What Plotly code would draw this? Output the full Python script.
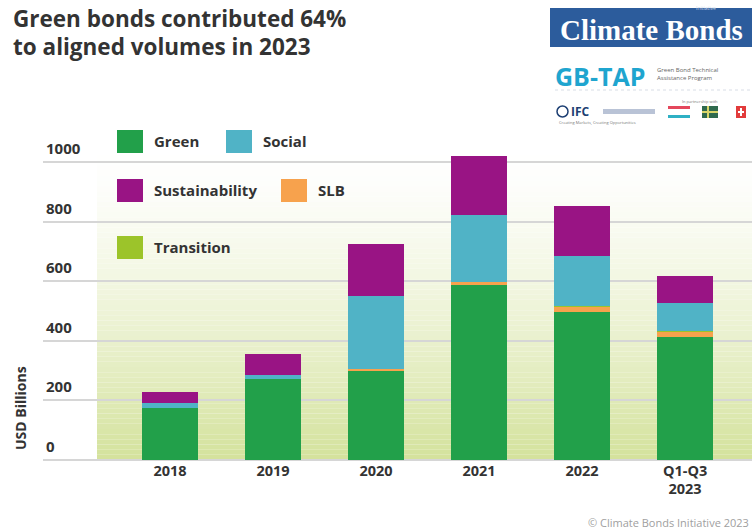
import plotly.graph_objects as go

# ---- data (USD billions) ----
categories = ["2018", "2019", "2020", "2021", "2022", "Q1-Q3<br>2023"]
green = [173, 271, 302, 587, 498, 414]
slb = [0, 0, 2, 11, 17, 17]
transition = [0, 0, 0, 0, 1, 2]
social = [17, 14, 246, 224, 170, 93]
sustainability = [37, 71, 175, 199, 167, 91]
y_ticks = [0, 200, 400, 600, 800, 1000]

# ---- styles ----
C_GREEN = "#22a04a"
C_SOCIAL = "#50b3c6"
C_SUST = "#991484"
C_SLB = "#f7a24d"
C_TRANS = "#9cc42a"
TXT = "#333333"
FONT = "Open Sans"

W, H = 752, 530
L, R, T, B = 43, 0, 120, 70
PW, PH = W - L - R, H - T - B


def px(x):
    return (x - L) / PW


def py(y):
    return (H - B - y) / PH


fig = go.Figure()
series = [
    ("Green", green, C_GREEN),
    ("SLB", slb, C_SLB),
    ("Transition", transition, C_TRANS),
    ("Social", social, C_SOCIAL),
    ("Sustainability", sustainability, C_SUST),
]
for name, vals, col in series:
    fig.add_trace(go.Bar(x=categories, y=vals, name=name,
                         marker=dict(color=col, line=dict(width=0)),
                         showlegend=False))

shapes = []
# background gradient (white at top -> pale yellow-green at bottom)
n = 60
top_px, bot_px = 150, H - B
c0 = (255, 255, 255)
c1 = (212, 226, 156)
for i in range(n):
    y0 = top_px + (bot_px - top_px) * i / n
    y1 = top_px + (bot_px - top_px) * (i + 1) / n
    t = ((i + 0.5) / n) ** 1.4
    col = "rgb(%d,%d,%d)" % tuple(round(a + (b - a) * t) for a, b in zip(c0, c1))
    shapes.append(dict(type="rect", xref="paper", yref="paper",
                       x0=px(97), x1=1.0, y0=py(y1), y1=py(y0),
                       fillcolor=col, line=dict(width=0), layer="below"))

annotations = []
# y tick labels, placed just above their gridlines
for v in y_ticks:
    annotations.append(dict(text="<b>%d</b>" % v, xref="paper", yref="y",
                            x=px(44), y=v, xanchor="left", yanchor="middle",
                            yshift=14, showarrow=False,
                            font=dict(family=FONT, size=15, color=TXT)))

# legend swatches
legend_items = [
    ("Green", C_GREEN, 117, 130, 152),
    ("Social", C_SOCIAL, 226, 130, 261),
    ("Sustainability", C_SUST, 117, 179, 152),
    ("SLB", C_SLB, 281, 179, 316),
    ("Transition", C_TRANS, 117, 236, 152),
]
for name, col, sx, sy, tx in legend_items:
    shapes.append(dict(type="rect", xref="paper", yref="paper",
                       x0=px(sx), x1=px(sx + 26), y0=py(sy + 23), y1=py(sy),
                       fillcolor=col, line=dict(width=0)))
    annotations.append(dict(text="<b>%s</b>" % name, xref="paper", yref="paper",
                            x=px(tx), y=py(sy + 11), xanchor="left", yanchor="middle",
                            showarrow=False, font=dict(family=FONT, size=15, color=TXT)))

# logo block
shapes.append(dict(type="rect", xref="paper", yref="paper",
                   x0=px(550), x1=px(760), y0=py(47), y1=py(8),
                   fillcolor="#2c5c9c", line=dict(width=0)))
annotations.append(dict(text="<b>Climate Bonds</b>", xref="paper", yref="paper",
                        x=px(651), y=py(30), xanchor="center", yanchor="middle",
                        showarrow=False,
                        font=dict(family="Liberation Serif", size=29, color="white")))
annotations.append(dict(text="Initiative", xref="paper", yref="paper",
                        x=px(706), y=py(7.5), xanchor="center", yanchor="middle",
                        showarrow=False, font=dict(family=FONT, size=5, color="#c8d6ea")))
annotations.append(dict(text="<b>GB-TAP</b>", xref="paper", yref="paper",
                        x=px(553), y=py(76), xanchor="left", yanchor="middle",
                        showarrow=False, font=dict(family=FONT, size=25, color="#1fa5cf")))
annotations.append(dict(text="Green Bond Technical<br>Assistance Program", xref="paper",
                        yref="paper", x=px(655), y=py(74), xanchor="left", yanchor="middle",
                        showarrow=False, align="left",
                        font=dict(family=FONT, size=6, color="#666666")))
shapes.append(dict(type="line", xref="paper", yref="paper",
                   x0=px(555), x1=px(752), y0=py(90), y1=py(90),
                   line=dict(color="#d8dde6", width=1, dash="dot")))
annotations.append(dict(text="<b>IFC</b>", xref="paper", yref="paper",
                        x=px(569), y=py(111), xanchor="left", yanchor="middle",
                        showarrow=False, font=dict(family=FONT, size=12, color="#1d3f73")))
shapes.append(dict(type="circle", xref="paper", yref="paper",
                   x0=px(557), x1=px(568), y0=py(117), y1=py(106),
                   line=dict(color="#1d3f73", width=1.5)))
shapes.append(dict(type="rect", xref="paper", yref="paper",
                   x0=px(603), x1=px(655), y0=py(114), y1=py(109),
                   fillcolor="#b9c3d6", line=dict(width=0)))
annotations.append(dict(text="Creating Markets, Creating Opportunities", xref="paper",
                        yref="paper", x=px(557), y=py(122), xanchor="left",
                        yanchor="middle", showarrow=False,
                        font=dict(family=FONT, size=4, color="#777777")))
annotations.append(dict(text="In partnership with", xref="paper", yref="paper",
                        x=px(700), y=py(101), xanchor="center", yanchor="middle",
                        showarrow=False, font=dict(family=FONT, size=4, color="#777777")))
# flags
flag_rects = [
    (668, 690, 106, 109, "#e4475c"), (668, 690, 109, 115, "#ffffff"),
    (668, 690, 115, 118, "#2fb0c4"),
    (702, 718, 106, 118, "#2f6a4e"), (707, 709, 106, 118, "#d8d56a"),
    (702, 718, 111, 113, "#d8d56a"),
    (736, 746, 106, 118, "#e23b3b"), (740, 742, 108, 116, "#ffffff"),
    (738, 744, 111, 113, "#ffffff"),
]
for x0, x1, y0, y1, col in flag_rects:
    shapes.append(dict(type="rect", xref="paper", yref="paper",
                       x0=px(x0), x1=px(x1), y0=py(y1), y1=py(y0),
                       fillcolor=col, line=dict(width=0)))

# title (two lines)
for text, yc in [("Green bonds contributed 64%", 19), ("to aligned volumes in 2023", 46)]:
    annotations.append(dict(text="<b>%s</b>" % text, xref="paper", yref="paper",
                            x=px(11), y=py(yc), xanchor="left", yanchor="middle",
                            showarrow=False, font=dict(family=FONT, size=22.5, color=TXT)))
# y-axis title
annotations.append(dict(text="<b>USD Billions</b>", xref="paper", yref="paper",
                        x=px(20), y=py(408), xanchor="center", yanchor="middle",
                        textangle=-90, showarrow=False,
                        font=dict(family=FONT, size=14, color=TXT)))
# footer
annotations.append(dict(text="© Climate Bonds Initiative 2023", xref="paper", yref="paper",
                        x=px(586), y=py(522), xanchor="left", yanchor="middle",
                        showarrow=False, font=dict(family=FONT, size=11, color="#a0a0a0")))

fig.update_layout(
    width=W, height=H,
    margin=dict(l=L, r=R, t=T, b=B),
    paper_bgcolor="white", plot_bgcolor="rgba(0,0,0,0)",
    barmode="stack", bargap=0.45,
    shapes=shapes, annotations=annotations,
    font=dict(family=FONT, color=TXT),
    xaxis=dict(type="category", range=[-1.233, 5.65], showgrid=False,
               showline=False, ticks="", zeroline=False,
               tickfont=dict(family=FONT, size=14.5, color=TXT),
               tickvals=categories,
               ticktext=["<b>%s</b>" % c for c in categories]),
    yaxis=dict(range=[0, 1141], tickvals=y_ticks, showticklabels=False,
               showgrid=True, gridcolor="#d6d6d6", gridwidth=1.5,
               zeroline=True, zerolinecolor="#d6d6d6", zerolinewidth=1.5,
               showline=False),
)

fig.write_html("out.html", config={"displayModeBar": False},
               post_script="document.body.style.margin='0';document.body.style.overflow='hidden';")
